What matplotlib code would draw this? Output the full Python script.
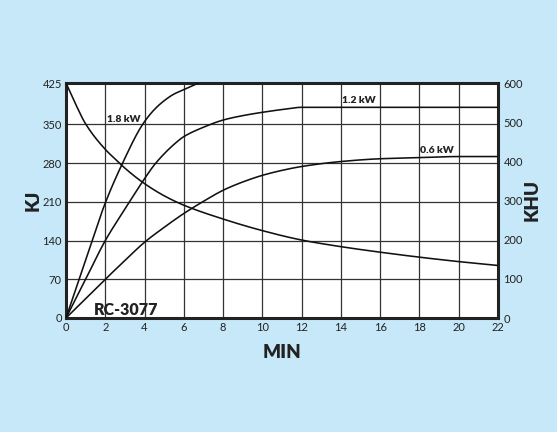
import numpy as np
import matplotlib.pyplot as plt

plt.rcParams['font.family'] = ['Lato', 'DejaVu Sans']

# data (KJ vs minutes)
t_decay = [0, 0.5, 1, 2, 2.7, 3, 4, 5, 6, 8, 10, 12, 14, 16, 18, 20, 22]
kj_decay = [425, 386, 351, 305, 281, 271, 243, 221, 204, 179, 158, 141, 129, 119, 110, 102, 95]

t_18 = [0, 1, 2, 2.88, 3.9, 4.5, 5, 5.5, 6, 6.5, 6.75]
kj_18 = [0, 105, 208, 280, 350, 377, 393, 405, 413, 421, 425]

t_12 = [0, 1, 2, 3, 4, 4.5, 5, 5.5, 6, 7, 8, 9, 10, 11, 12, 22]
kj_12 = [0, 70, 140, 197, 252, 277, 297, 314, 328, 345, 358, 366, 372, 377, 381, 381]

t_06 = [0, 1, 2, 3, 4, 5, 6, 7, 8, 9, 10, 11, 12, 14, 16, 18, 20, 22]
kj_06 = [0, 35, 70, 104, 137, 164, 189, 211, 231, 246, 258, 267, 274, 283, 288, 290, 292, 292]

x_ticks = list(range(0, 23, 2))
kj_ticks = [0, 70, 140, 210, 280, 350, 425]
khu_ticks = [0, 100, 200, 300, 400, 500, 600]


def pchip(x, y, n=400):
    # monotone cubic (Fritsch-Carlson) through the read points
    x = np.asarray(x, float)
    y = np.asarray(y, float)
    h = np.diff(x)
    d = np.diff(y) / h
    m = np.zeros_like(y)
    for i in range(1, len(x) - 1):
        if d[i-1] * d[i] > 0:
            w1 = 2*h[i] + h[i-1]
            w2 = h[i] + 2*h[i-1]
            m[i] = (w1 + w2) / (w1/d[i-1] + w2/d[i])
    m[0] = d[0]
    m[-1] = d[-1]
    xs = np.linspace(x[0], x[-1], n)
    idx = np.clip(np.searchsorted(x, xs) - 1, 0, len(h) - 1)
    s = (xs - x[idx]) / h[idx]
    h00 = 2*s**3 - 3*s**2 + 1
    h10 = s**3 - 2*s**2 + s
    h01 = -2*s**3 + 3*s**2
    h11 = s**3 - s**2
    ys = h00*y[idx] + h10*h[idx]*m[idx] + h01*y[idx+1] + h11*h[idx]*m[idx+1]
    return xs, ys


W, H = 557, 432
bg = '#c6e8f8'
fig = plt.figure(figsize=(W/100, H/100), dpi=100, facecolor=bg)
ax = fig.add_axes([66/W, 1-318/H, 432/W, 235/H])
ax.set_facecolor('white')

for x, y in [(t_decay, kj_decay), (t_18, kj_18), (t_12, kj_12), (t_06, kj_06)]:
    xs, ys = pchip(x, y)
    ax.plot(xs, ys, color='#111111', lw=1.15, zorder=3)

ax.set_xlim(0, 22)
ax.set_ylim(0, 425)
ax.set_xticks(x_ticks)
ax.set_yticks(kj_ticks)
ax.grid(True, color='#333333', lw=0.9)
ax.tick_params(length=0, labelsize=8, pad=3, colors='#222222')
for s in ax.spines.values():
    s.set_linewidth(2.2)
    s.set_color('#222222')

ax2 = ax.twinx()
ax2.set_ylim(0, 600)
ax2.set_yticks(khu_ticks)
ax2.tick_params(length=0, labelsize=8, pad=4, colors='#222222')
for s in ax2.spines.values():
    s.set_visible(False)

ttl = dict(fontsize=13.5, fontweight='heavy', color='#222222', ha='center', va='center')
fig.text(33/W, 1-200/H, 'KJ', rotation=90, **ttl)
fig.text(532/W, 1-200/H, 'KHU', rotation=90, **ttl)
fig.text(282/W, 1-352/H, 'MIN', **ttl)

lab = dict(fontsize=7.5, fontweight='heavy', color='#222222', zorder=4)
ax.text(2.1, 355, '1.8 kW', **lab)
ax.text(14.05, 388, '1.2 kW', **lab)
ax.text(18.05, 299, '0.6 kW', **lab)
ax.text(1.4, 6, 'RC-3077', fontsize=11.5, fontweight='heavy', color='#222222', zorder=4)

fig.savefig('out.png', dpi=100, facecolor=bg)
